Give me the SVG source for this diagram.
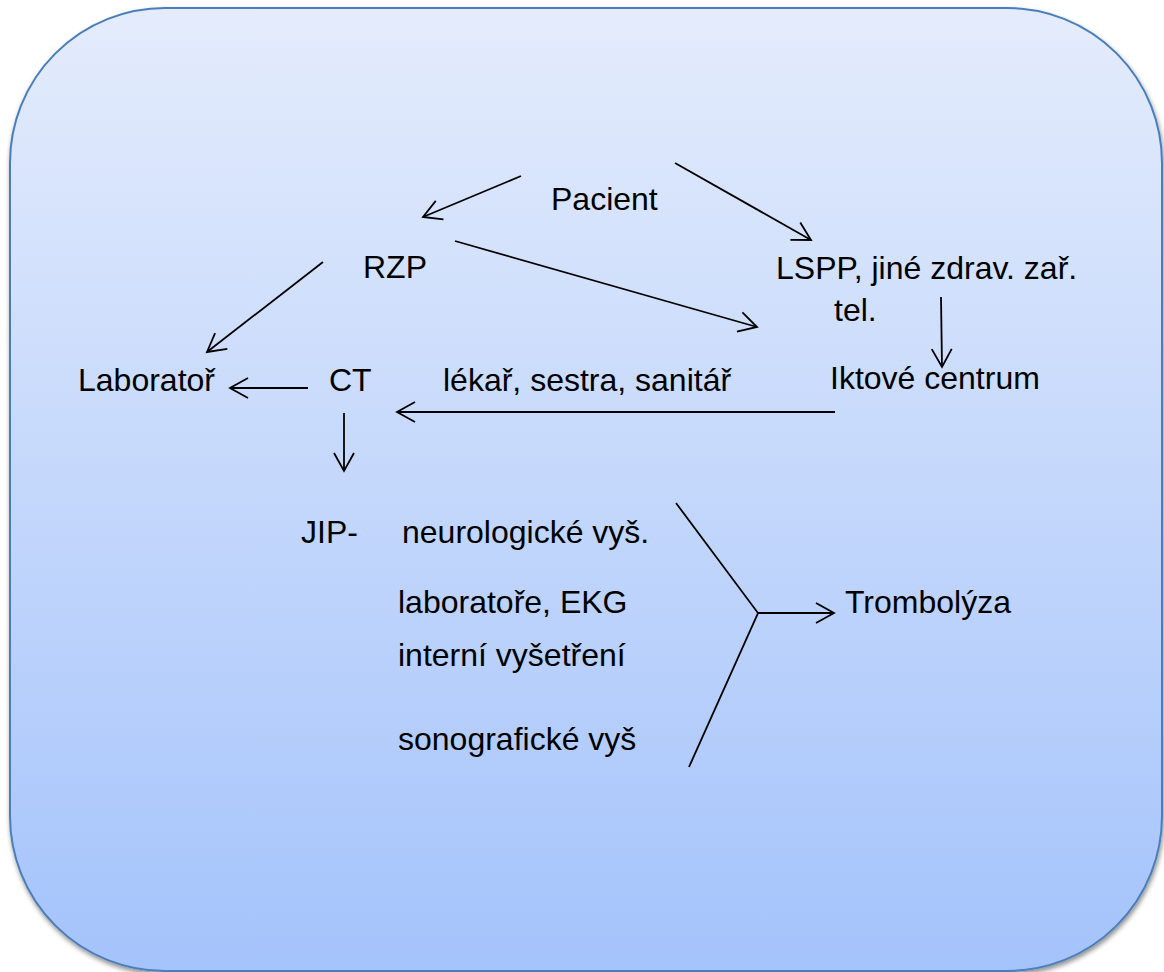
<svg xmlns="http://www.w3.org/2000/svg" width="1164" height="972" viewBox="0 0 1164 972">
<style>
text{font-family:"Liberation Sans",Arial,sans-serif;font-size:32px;fill:#000}
.c{stroke:#000;stroke-width:1.8;fill:none}
</style>
<defs>
<linearGradient id="bg" x1="0" y1="0" x2="0" y2="1">
<stop offset="0" stop-color="#e4ecfc"/>
<stop offset="1" stop-color="#a4c3fb"/>
</linearGradient>
<filter id="sh" x="-5%" y="-5%" width="110%" height="110%">
<feGaussianBlur in="SourceAlpha" stdDeviation="2.5"/>
<feOffset dx="1" dy="3"/>
<feComponentTransfer><feFuncA type="linear" slope="0.45"/></feComponentTransfer>
<feMerge><feMergeNode/><feMergeNode in="SourceGraphic"/></feMerge>
</filter>
<marker id="ah" markerUnits="userSpaceOnUse" markerWidth="30" markerHeight="30" viewBox="-25 -15 30 30" refX="0" refY="0" orient="auto">
<path d="M-18,-10 L0,0 L-18,10" fill="none" stroke="#000" stroke-width="1.8"/>
</marker>
</defs>
<rect x="10" y="8" width="1152" height="963" rx="155" ry="155" fill="url(#bg)" stroke="#4a7ebb" stroke-width="2" filter="url(#sh)"/>
<g id="connectors">
<line class="c" x1="521" y1="176" x2="423" y2="217" marker-end="url(#ah)"/>
<line class="c" x1="675" y1="163" x2="811" y2="240" marker-end="url(#ah)"/>
<line class="c" x1="455" y1="241" x2="757" y2="327" marker-end="url(#ah)"/>
<line class="c" x1="323" y1="262" x2="207" y2="352" marker-end="url(#ah)"/>
<line class="c" x1="941" y1="297" x2="942" y2="367" marker-end="url(#ah)"/>
<line class="c" x1="308" y1="388" x2="230" y2="388" marker-end="url(#ah)"/>
<line class="c" x1="835" y1="412" x2="397" y2="412" marker-end="url(#ah)"/>
<line class="c" x1="344" y1="413" x2="344" y2="471" marker-end="url(#ah)"/>
<polyline class="c" points="676,503 758,613 689,767"/>
<line class="c" x1="758" y1="613" x2="834" y2="613" marker-end="url(#ah)"/>
</g>
<g id="pacient"><text x="551" y="210">Pacient</text></g>
<g id="rzp"><text x="363" y="278">RZP</text></g>
<g id="lspp"><text x="776" y="279">LSPP, jiné zdrav. zař.</text></g>
<g id="tel"><text x="834" y="321">tel.</text></g>
<g id="laborator"><text x="78" y="391">Laboratoř</text></g>
<g id="ct"><text x="329" y="391">CT</text></g>
<g id="lekar"><text x="443" y="391">lékař, sestra, sanitář</text></g>
<g id="iktove"><text x="830" y="389">Iktové centrum</text></g>
<g id="jip"><text x="301" y="543">JIP-</text></g>
<g id="neuro"><text x="402" y="543">neurologické vyš.</text></g>
<g id="lab-ekg"><text x="398" y="613">laboratoře, EKG</text></g>
<g id="interni"><text x="398" y="666">interní vyšetření</text></g>
<g id="sono"><text x="398" y="750">sonografické vyš</text></g>
<g id="trombolyza"><text x="845" y="613">Trombolýza</text></g>
</svg>
